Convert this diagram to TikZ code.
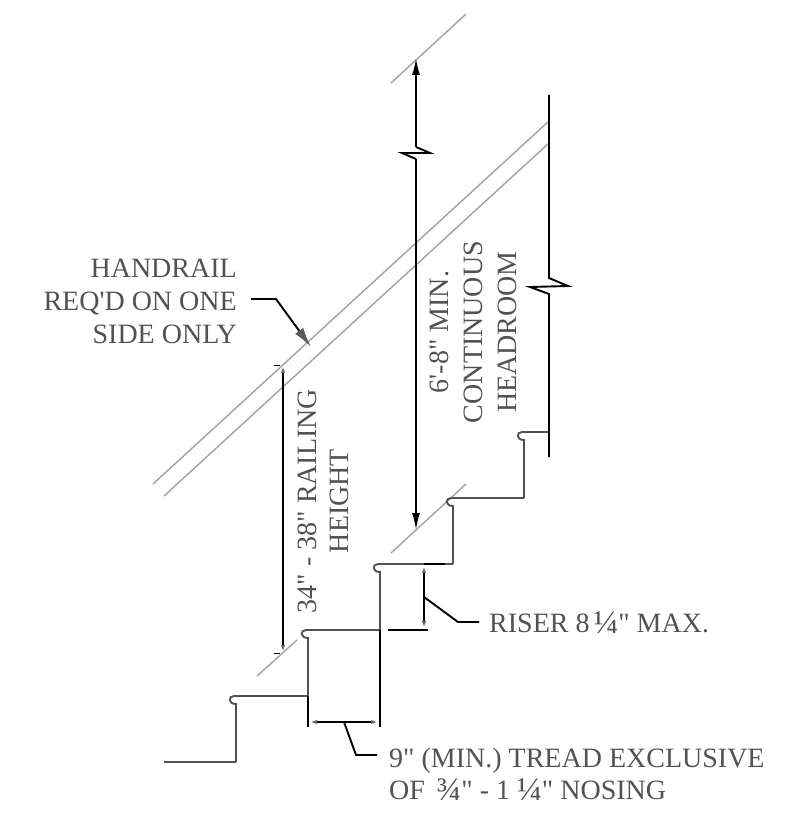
\documentclass[tikz,border=0pt]{standalone}
\usepackage{fontspec}
\setmainfont{Liberation Serif}[Ligatures=TeXOff]
\usetikzlibrary{arrows.meta}
\newcommand{\fracq}[1]{{\fontsize{33}{33}\selectfont\raisebox{-1pt}{#1}}}
\tikzset{
 stepline/.style={line width=1.9pt,color=black!68},
 slopeline/.style={line width=1.5pt,color=black!35},
 dimline/.style={line width=1.9pt,color=black},
 thintip/.style={{Latex[length=9pt,width=4pt,color=black!60]}-{Latex[length=9pt,width=4pt,color=black!60]}},
 notetext/.style={inner sep=0pt,text=black!68,font=\fontsize{28}{33}\selectfont},
}
\begin{document}
\begin{tikzpicture}[x=1pt,y=-1pt]
 	\useasboundingbox (0,0) rectangle (789,821);
 	\draw[slopeline] (153,484) -- (549,121);
 	\draw[slopeline] (164,496) -- (549,143);
 	\draw[slopeline] (391,83) -- (466,14);
 	\draw[slopeline] (391,553) -- (466,484);
 	\draw[slopeline] (257,676) -- (297,640);
 	\draw[stepline] (164,762) -- (236,762);
 	\foreach \xa/\ya/\xb/\yb in {236/696/308/762,308/630/380/696,380/564/453/630,453/498/524/564,524/432/549/498}
 	\draw[stepline] (\xa,\yb) -- (\xa,\ya+8) .. controls (\xa-8,\ya+8) and (\xa-8,\ya) .. (\xa-2,\ya) -- (\xb,\ya);
 	\draw[dimline] (549,95) -- (549,278) -- (568,286) -- (530,287) -- (549,294) -- (549,457);
 	\draw[dimline,-{Latex[length=17pt,width=8pt]}] (416,147) -- (416,58);
 	\draw[dimline] (416,147) -- (430,153) -- (402,153) -- (416,159);
 	\draw[dimline,-{Latex[length=17pt,width=8pt]}] (416,159) -- (416,530);
 	\draw[dimline,thintip] (283,364) -- (283,654);
 	\draw[dimline,line width=1pt] (274,365.5) -- (280,365.5);
 	\draw[dimline,line width=1pt] (274,653) -- (280,653);
 	\draw[dimline] (308,696) -- (308,727);
 	\draw[dimline] (380,630) -- (380,727);
 	\draw[dimline,thintip] (308,722) -- (380,722);
 	\draw[dimline] (388,630) -- (428,630);
 	\draw[dimline] (424,564) -- (445,564);
 	\draw[dimline,thintip] (424,564) -- (424,630);
 	\node[notetext,anchor=base east,align=right] (handrail) at (237,343) {HANDRAIL\\REQ'D ON ONE\\SIDE ONLY};
 	\node[notetext,anchor=base west] (riser) at (489,632) {RISER 8\hspace{4pt}\fracq{¼}" MAX.};
 	\node[notetext,anchor=base west] (tread) at (389,767) {9" (MIN.) TREAD EXCLUSIVE};
 	\node[notetext,anchor=base west] (nosing) at (389,799) {OF \,\fracq{¾}" - 1 \fracq{¼}" NOSING};
 	\node[notetext,anchor=base,rotate=90] (railing) at (316,501) {34" - 38" RAILING};
 	\node[notetext,anchor=base,rotate=90] (height) at (348,501) {HEIGHT};
 	\node[notetext,anchor=base,rotate=90] (headroom a) at (448,332) {6'-8" MIN.};
 	\node[notetext,anchor=base,rotate=90] (headroom b) at (482,332) {CONTINUOUS};
 	\node[notetext,anchor=base,rotate=90] (headroom c) at (516,332) {HEADROOM};
 	\draw[dimline,-{Latex[length=20pt,width=10pt,color=black!65]}] (251,299) -- (276,299) -- (311,347);
 	\draw[dimline] (424,597) -- (458,622) -- (479,622);
 	\draw[dimline] (344,722) -- (356,755) -- (377,755);
\end{tikzpicture}
\end{document}
